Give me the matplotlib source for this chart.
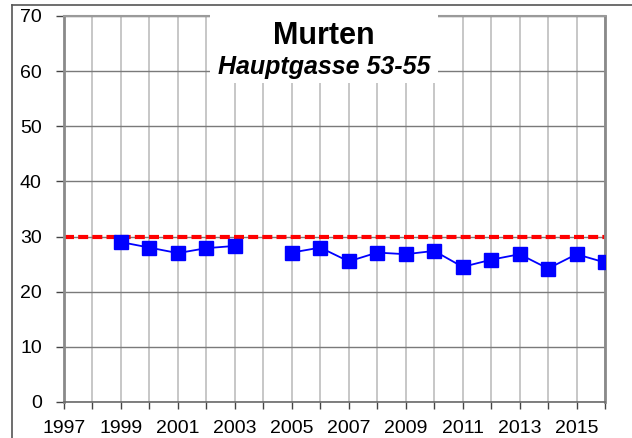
import numpy as np
import matplotlib
matplotlib.use("Agg")
import matplotlib.pyplot as plt
from matplotlib.lines import Line2D
from matplotlib.patches import Rectangle

plt.rcParams['font.family'] = ['Liberation Sans', 'DejaVu Sans']

years = [1999, 2000, 2001, 2002, 2003, 2004, 2005, 2006, 2007, 2008,
         2009, 2010, 2011, 2012, 2013, 2014, 2015, 2016]
values = [29.0, 28.0, 27.0, 27.9, 28.3, np.nan, 27.1, 28.0, 25.5, 27.1,
          26.8, 27.4, 24.5, 25.8, 26.8, 24.2, 26.8, 25.3]
limit_value = 30
limit_years = [1997, 2016]
tick_years = list(range(1997, 2017))
tick_labels = [str(y) if (y - 1997) % 2 == 0 else '' for y in tick_years]
y_ticks = [0, 10, 20, 30, 40, 50, 60, 70]
title = "Murten"
subtitle = "Hauptgasse 53-55"

W, H = 632, 438
fig = plt.figure(figsize=(W / 100, H / 100), dpi=100)
ax = fig.add_axes([64 / W, 1 - 402 / H, (605 - 64) / W, (402 - 16) / H])

ax.set_xlim(1997, 2016)
ax.set_ylim(0, 70)
ax.set_xticks(tick_years)
ax.set_xticklabels(tick_labels)
ax.set_yticks(y_ticks)

for y in tick_years:
    ax.axvline(y, color='#bdbdbd', lw=1.2, zorder=0)
for y in y_ticks:
    ax.axhline(y, color='#7a7a7a', lw=1.0, zorder=0.5)

ax.plot(limit_years, [limit_value, limit_value], color='#ff0000', lw=3,
        dashes=(2.4, 1.0), zorder=2)
ax.plot(years, values, color='#0000ff', lw=1.3, marker='s', markersize=9.5,
        markerfacecolor='#0000ff', markeredgecolor='#0000ff', zorder=3)

for s in ['left', 'right']:
    ax.spines[s].set_color('#8a8a8a')
    ax.spines[s].set_linewidth(2.0)
ax.spines['bottom'].set_color('#6a6a6a')
ax.spines['bottom'].set_linewidth(1.2)
ax.spines['top'].set_color('#9a9a9a')
ax.spines['top'].set_linewidth(1.5)

ax.tick_params(axis='y', direction='out', length=6, width=1, color='#444444',
               labelsize=14, pad=10)
ax.tick_params(axis='x', direction='out', length=5, width=1, color='#444444',
               labelsize=14, pad=8)

# outer frame
fig.add_artist(Line2D([12 / W, 1], [1 - 5 / H, 1 - 5 / H], color='#555555', lw=1.2,
                      transform=fig.transFigure))
fig.add_artist(Line2D([12 / W, 12 / W], [0, 1 - 5 / H], color='#555555', lw=1.2,
                      transform=fig.transFigure))

# title box
box = Rectangle((210 / W, 1 - 83 / H), 228 / W, 73 / H, transform=fig.transFigure,
                facecolor='white', edgecolor='none', zorder=5)
fig.add_artist(box)
fig.text(324 / W, 1 - 36 / H, title, ha='center', va='center', fontsize=22,
         fontweight='bold', zorder=6)
fig.text(324 / W, 1 - 67 / H, subtitle, ha='center', va='center', fontsize=18,
         fontweight='bold', fontstyle='italic', zorder=6)

fig.savefig('out.png', dpi=100)
